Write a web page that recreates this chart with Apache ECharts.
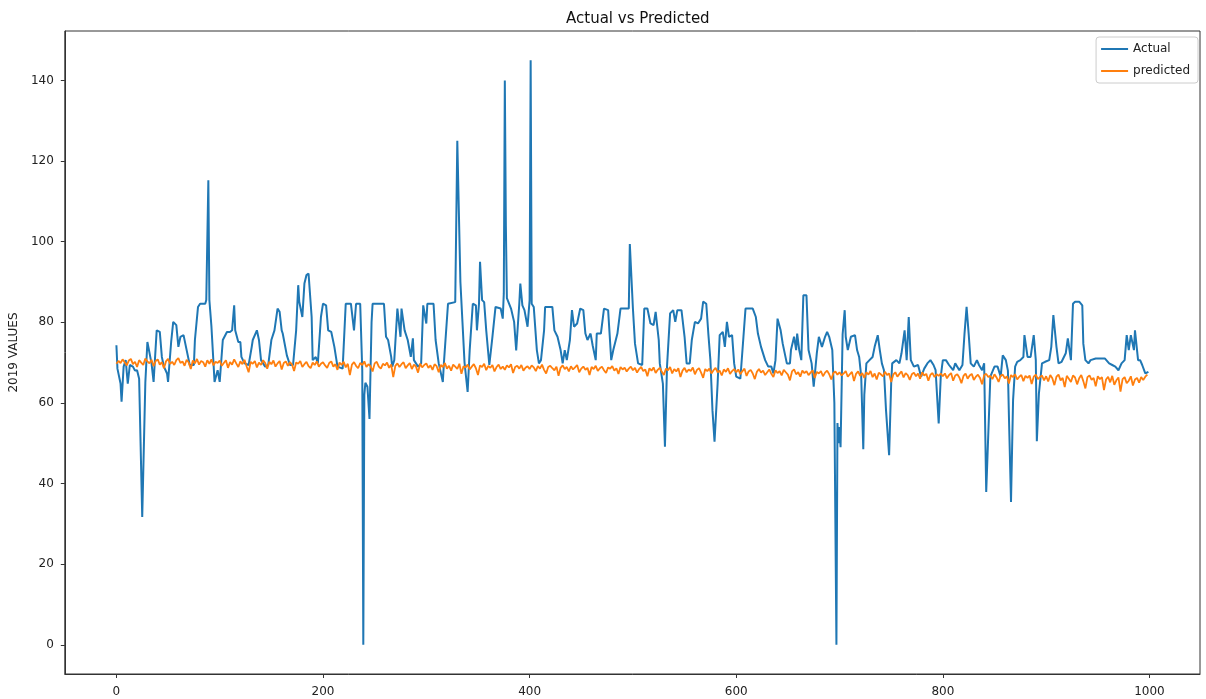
<!DOCTYPE html>
<html>
<head>
<meta charset="utf-8">
<title>Actual vs Predicted</title>
<script src="https://cdn.jsdelivr.net/npm/echarts@6.0.0/dist/echarts.min.js"></script>
<style>
  html, body { margin: 0; padding: 0; background: #fff; }
  #chart { width: 1206px; height: 699px; }
</style>
</head>
<body>
<div id="chart"></div>
<script>
// tick labels
const xTicks = [0, 200, 400, 600, 800, 1000];
const yTicks = [0, 20, 40, 60, 80, 100, 120, 140];

// actual series, [index, value]
const actualPts = [
  [0,74.3],[1,68.5],[4,64.8],[5,60.3],[7,69],[9,70.6],[11,64.8],[13,69.4],[16,69],[18,68],[20,68.1],[22,66],[25,31.7],[28,65],[30,75.1],
  [34,69.8],[36,65.2],[39,78],[42,77.6],[44,71.4],[46,69],[49,67.3],[50,65.2],[53,75.1],[55,80.1],[58,79.3],[60,73.9],[62,76.4],[65,76.8],
  [68,73.1],[71,69.4],[75,69.4],[76,75.6],[79,83.8],[81,84.6],[86,84.6],[87,85.5],[89,115.2],[90,85.5],[92,78.9],[94,69.8],[95,65.2],
  [98,68.1],[100,65.2],[103,75.6],[107,77.6],[110,77.6],[112,78],[114,84.2],[115,78],[118,75.1],[120,75.1],[121,71.4],[124,69.8],[128,69.4],
  [131,73.9],[132,75.6],[136,78],[138,75.6],[140,70.6],[144,69],[147,69.4],[150,75.6],[153,78],[156,83.4],[158,82.6],[160,78],[161,77.2],
  [165,71.8],[168,69.4],[171,69.4],[174,78],[176,89.2],[177,85.1],[180,81.3],[182,89.6],[184,91.7],[186,92.1],[189,81.3],[190,70.6],
  [193,71.4],[195,69.8],[198,81.3],[200,84.6],[203,84.2],[205,78],[208,77.6],[211,73.9],[214,69],[219,68.5],[222,84.6],[227,84.6],[230,78],
  [232,84.6],[236,84.6],[238,68],[239,0],[240,62],[241,65],[243,64],[245,56],[247,80],[248,84.6],
  [259,84.6],[261,76.4],[263,75.6],[266,71.4],[267,69],[269,70.6],[272,83.4],[275,76.4],[276,83.4],[279,78],[282,75.6],[285,71.4],[287,76],
  [288,70.6],[292,69],[295,69.8],[297,84.2],[300,79.7],[301,84.6],[307,84.6],[309,75.6],[312,69.8],[316,65.2],[317,69.8],[321,84.6],[328,85],
  [330,125],[333,90],[335,80],[337,70],[340,62.7],[342,73.1],[345,84.6],[348,84.2],[349,78],[351,84.6],[352,95],[354,85.5],[356,85],[358,78],
  [361,69.4],[364,76.4],[367,83.8],[372,83.4],[374,80.9],[375,87.1],[376,140],[377,104],[378,86],[379,86.3],[382,83.4],[385,80.1],[387,73],
  [390,84.6],[391,89.6],[393,84.2],[395,83],[398,78.9],[400,85.5],[401,145],[402,84.6],[404,83.8],[407,73.1],[409,69.8],[411,70.6],[414,78],
  [415,83.8],[422,83.8],[424,78],[427,76.4],[430,73.1],[432,69.8],[434,73.1],[436,70.6],[439,75.6],[441,83],[443,78.9],[446,79.7],[449,83.4],
  [452,83],[454,77.2],[456,75.6],[459,77.2],[461,74.3],[464,70.6],[465,77.2],[469,77.2],[472,83.4],[476,83],[479,70.6],[481,73.1],[485,77.2],
  [488,83.4],[496,83.4],[497,99.4],[498,99.2],[500,83.4],
  [502,74.7],[505,69.8],[509,69.4],[511,83.4],[514,83.4],[517,79.7],[520,79.3],[522,82.6],[525,75.6],[526,69.8],[529,64.8],[531,49.1],[533,69],
  [536,82.2],[539,83],[541,80.1],[543,83],[547,83],[550,76.4],[552,69.8],[555,69.8],[557,75.6],[560,80.1],[563,79.7],[566,80.9],[568,85.1],
  [571,84.6],[573,77.2],[575,70.6],[577,58.2],[579,50.4],[582,64.8],[584,76.8],[587,77.6],[589,73.9],[591,80.1],[593,76.4],[596,76.8],
  [598,69.8],[600,66.5],[604,66],[607,76.4],[609,83.4],[616,83.4],[619,81.3],[621,77.2],[624,73.9],[628,70.6],[631,69],[634,69],[636,67.3],
  [638,70.6],[640,80.9],[643,78],[645,74.7],[649,69.8],[652,69.8],[653,73.1],[656,76.4],[658,73.1],[659,77.2],[661,73.1],[663,70.6],
  [665,86.7],[668,86.7],[670,73.1],[673,69.8],[675,64],[678,72.3],[680,76.4],[683,73.9],[686,76.4],[688,77.6],[690,76.4],[693,73.1],
  [695,60],[697,0],[698,55],[699,50],[700,54],[701,49],[703,77],[705,83],[706,76.4],[708,73.1],[711,76.4],[715,76.8],[717,73.1],[719,71.4],
  [721,66.5],[723,48.5],[724,62],[726,69.8],[729,70.6],[732,71.4],[734,73.9],[737,76.8],[739,73.1],[741,69.8],[743,68.1],[745,58.2],
  [748,47],[750,64.8],
  [751,69.8],[755,70.6],[758,69.8],[760,72.3],[763,78],[765,70.6],[767,81.3],[769,70.6],[772,69],[776,69.4],[779,66.5],[782,68.5],[785,69.8],
  [788,70.6],[791,69.4],[793,68.1],[796,54.9],[798,66.5],[800,70.6],[803,70.6],[806,69.4],[810,68.1],[812,69.8],[816,68.1],[819,69.4],
  [821,77.2],[823,83.8],[825,77.2],[827,69.8],[830,69],[833,70.6],[835,69.4],[838,68.1],[840,69.8],[842,37.9],[846,66.5],[850,69],[853,69],
  [856,66.5],[858,71.8],[861,70.6],[863,68],[864,56.5],[866,35.4],[868,60.7],[870,69],[872,70.2],[875,70.6],[878,71.4],[879,76.8],[882,71.4],
  [885,71.4],[888,76.8],[890,70.6],[891,50.5],[893,62.3],[896,69.8],[899,70.2],[903,70.6],[905,73.9],[907,81.8],[910,73.9],[912,69.8],
  [915,70.2],[919,72.3],[921,76],[924,70.6],[926,84.6],[928,85.1],[932,85.1],[935,84.2],[936,74.7],[938,70.6],[941,69.8],[943,70.6],
  [948,71],[952,71],[957,71],[961,69.8],[964,69.4],[967,69],[970,68.1],[973,69.8],[976,70.6],[978,76.8],[980,73.1],[982,76.8],[985,73.1],
  [986,78],[989,70.6],[991,70.6],[993,69.4],[996,67.3],[999,67.7]
];

// predicted series, one value every predStep indices
const predStep = 2;
const predicted = [
  // 0-98
  69.7,70.4,69.9,70.8,70.1,69.3,70.5,70.9,69.6,70.2,68.9,70.6,70.0,69.4,71.0,70.3,69.8,70.7,69.1,70.4,
  70.8,69.5,70.1,68.6,70.3,70.9,69.7,70.2,69.4,70.6,71.1,69.9,70.3,69.2,70.7,70.0,68.4,70.5,69.8,70.9,
  69.5,70.4,70.1,69.0,70.6,69.7,70.8,69.3,70.2,69.9,
  // 100-198
  70.5,69.2,69.9,70.6,68.7,70.1,69.5,70.8,69.8,68.9,70.3,69.6,70.7,69.1,67.6,70.2,69.7,70.4,68.8,70.0,
  69.4,70.6,69.9,68.5,70.2,69.6,70.5,69.0,69.8,70.4,68.3,69.9,70.3,69.2,70.1,69.5,67.9,70.0,69.7,70.4,
  68.9,69.6,70.2,69.1,68.6,70.0,69.4,70.3,69.0,69.7,
  // 200-298
  70.1,69.3,68.7,69.9,70.3,69.0,69.6,68.2,70.0,69.4,70.2,68.8,69.7,66.9,69.5,70.1,69.2,68.6,69.9,69.4,
  70.3,68.9,69.6,69.1,67.8,69.8,70.2,69.0,68.5,69.7,69.3,70.0,68.7,69.5,66.4,69.2,69.8,68.9,69.6,70.1,
  68.6,69.3,69.9,68.4,69.5,69.0,67.5,69.7,68.8,69.4,
  // 300-398
  69.8,68.7,69.3,68.2,69.6,69.1,67.6,69.4,68.9,69.9,68.5,69.2,68.0,69.5,69.0,68.4,69.7,67.2,69.1,68.8,
  69.5,68.3,69.0,69.6,68.6,66.9,69.3,68.9,69.7,68.1,69.2,68.7,69.4,67.8,68.9,69.5,68.4,69.0,68.2,69.3,
  68.8,69.6,67.4,68.9,69.2,68.5,69.4,68.0,68.7,69.1,
  // 400-498
  68.4,69.3,68.8,67.9,69.1,68.5,69.5,68.2,67.3,68.9,69.2,68.6,68.1,69.0,66.7,68.7,69.3,68.4,68.9,67.8,
  69.1,68.3,68.8,69.4,67.6,68.5,69.0,68.2,68.7,66.9,68.9,68.4,69.2,67.9,68.6,69.0,68.1,67.4,68.8,68.5,
  69.1,68.0,68.6,67.2,68.9,68.3,68.7,67.8,68.5,69.0,
  // 500-598
  68.1,68.7,67.5,68.4,68.9,67.9,68.3,66.6,68.6,68.0,68.8,67.4,68.2,68.7,67.7,66.9,68.5,68.1,68.9,67.3,
  68.4,67.8,68.6,66.4,68.0,68.7,67.6,68.3,67.9,68.8,67.1,68.2,68.6,67.5,66.2,68.4,67.9,68.5,67.3,68.1,
  68.7,67.6,68.0,66.8,68.3,67.7,68.6,67.2,67.9,68.4,
  // 600-698
  67.6,68.3,67.1,67.9,68.5,66.7,67.8,68.2,67.3,65.9,67.7,68.4,67.5,68.0,66.9,67.6,68.3,67.2,66.4,68.1,
  67.4,67.9,66.8,68.2,67.6,67.0,65.6,67.8,68.3,67.1,67.6,66.5,68.0,67.4,67.9,66.9,67.5,68.1,66.2,67.7,
  67.3,67.9,66.6,67.5,68.0,67.1,65.8,67.4,67.8,67.0,
  // 700-798
  67.6,66.8,67.3,67.9,66.5,67.1,67.7,65.4,67.2,67.8,66.7,67.4,66.2,67.6,67.0,67.9,66.4,67.3,65.8,67.5,
  67.1,66.6,67.7,66.9,67.3,65.2,67.0,67.6,66.5,67.2,67.8,66.3,67.4,66.9,65.7,67.1,67.5,66.6,67.3,66.0,
  67.6,66.8,67.2,65.5,67.0,67.4,66.4,67.1,66.7,67.3,
  // 800-898
  66.6,67.3,66.1,66.9,67.4,65.5,66.8,67.1,66.3,64.9,66.7,67.3,66.0,66.8,67.2,65.7,66.5,67.0,66.2,64.6,
  66.9,67.2,66.4,66.7,65.9,67.1,66.3,65.2,66.8,67.0,66.1,66.6,64.8,66.9,66.4,67.1,65.8,66.5,66.9,65.4,
  66.7,66.2,66.8,64.7,66.5,67.0,65.9,66.4,66.8,65.6,
  // 900-998
  66.6,65.3,66.9,66.1,64.4,66.5,67.0,65.6,66.2,63.9,66.7,66.0,65.2,66.8,66.3,64.6,66.1,66.9,65.4,63.6,
  66.4,66.8,65.7,66.2,64.1,66.6,65.9,66.4,63.2,65.8,66.5,65.1,66.7,64.5,65.6,66.3,62.8,65.9,66.4,64.9,
  65.5,66.6,64.3,65.8,66.2,65.0,66.4,65.7,66.5,67.0
];

const chart = echarts.init(document.getElementById("chart"));

const labelFont = { color: "#222", fontSize: 12, fontFamily: "DejaVu Sans" };

let option = {
  animation: false,
  backgroundColor: "#fff",
  title: {
    text: "Actual vs Predicted",
    left: 561,
    top: 7,
    textStyle: { color: "#111", fontSize: 15, fontWeight: "normal", fontFamily: "DejaVu Sans" },
  },
  legend: {
    orient: "vertical",
    right: 8,
    top: 37,
    data: [
      { name: "Actual", icon: "rect" },
      { name: "predicted", icon: "rect" },
    ],
    itemWidth: 27,
    itemHeight: 2,
    itemGap: 10,
    padding: [6, 8, 6, 5],
    borderColor: "#ccc",
    borderWidth: 1,
    borderRadius: 3,
    backgroundColor: "#fff",
    textStyle: labelFont,
  },
  grid: {
    left: 64,
    right: 6,
    top: 31,
    bottom: 25,
    show: true,
    borderColor: "#333",
    borderWidth: 1,
  },
  xAxis: {
    type: "value",
    min: -49.95,
    max: 1048.95,
    axisLine: { show: true, onZero: false, lineStyle: { color: "#333" } },
    splitLine: { show: false },
    axisTick: { show: true, length: 4, customValues: xTicks, lineStyle: { color: "#333" } },
    axisLabel: { ...labelFont, margin: 12, customValues: xTicks, formatter: (v) => String(v) },
  },
  yAxis: {
    type: "value",
    min: -7.25,
    max: 152.25,
    name: "2019 VALUES",
    nameLocation: "middle",
    nameRotate: 90,
    nameGap: 40,
    nameTextStyle: labelFont,
    axisLine: { show: true, onZero: false, lineStyle: { color: "#333" } },
    splitLine: { show: false },
    axisTick: { show: true, length: 4, customValues: yTicks, lineStyle: { color: "#333" } },
    axisLabel: { ...labelFont, margin: 11, customValues: yTicks, formatter: (v) => String(v) },
  },
  series: [
    {
      name: "Actual",
      type: "line",
      data: actualPts,
      showSymbol: false,
      lineStyle: { color: "#1f77b4", width: 2 },
      itemStyle: { color: "#1f77b4" },
      z: 2,
    },
    {
      name: "predicted",
      type: "line",
      data: predicted.map((v, i) => [i * predStep, v]),
      showSymbol: false,
      lineStyle: { color: "#ff7f0e", width: 1.8 },
      itemStyle: { color: "#ff7f0e" },
      z: 3,
    },
  ],
};
chart.setOption(option, true);
</script>
</body>
</html>
